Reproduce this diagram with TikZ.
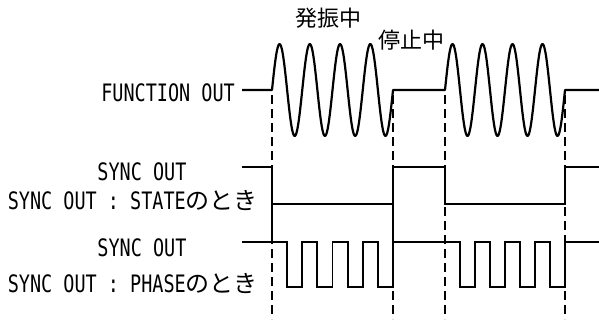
\documentclass[tikz,border=0pt]{standalone}
\usepackage{fontspec}
\newfontfamily\latn[FakeStretch=0.77]{DejaVu Sans Mono}
\newfontfamily\jpn{Noto Sans CJK JP}
\usetikzlibrary{positioning}

\tikzset{
  lab/.style={inner sep=0pt, font=\fontsize{24}{27}\selectfont\latn},
  head/.style={inner sep=0pt, font=\fontsize{22}{26}\selectfont\jpn},
  sig/.style={line width=1.8pt},
  wave/.style={line width=2.2pt, line join=round},
  mark line/.style={line width=1.8pt, dash pattern=on 9pt off 5pt}
}

\begin{document}
\begin{tikzpicture}[x=1pt, y=-1pt]
  \useasboundingbox (0,0) rectangle (599,321);

  % Labels
  \node[lab, anchor=east] (fout) at (235,93) {FUNCTION OUT};
  \node[lab] (sync1) at (142,172) {SYNC OUT};
  \node[lab, anchor=east] (state) at (258,200) {SYNC OUT : STATE{\jpn のとき}};
  \node[lab] (sync2) at (142,248) {SYNC OUT};
  \node[lab, anchor=east] (phase) at (258,283) {SYNC OUT : PHASE{\jpn のとき}};
  \node[head] (run) at (328,18) {発振中};
  \node[head] (stop) at (411,40) {停止中};

  % Timing marks
  \foreach \t in {272,393,445,565}
    \draw[mark line] (\t,95) -- (\t,319);

  % FUNCTION OUT
  \draw[wave] (242,90) -- (272,90)
    -- plot[domain=0:121, samples=150, smooth] (272+\x, {90-46*sin(11.9*\x)})
    -- (445,90)
    -- plot[domain=0:120, samples=150, smooth] (445+\x, {90-46*sin(12*\x)})
    -- (599,90);

  % SYNC OUT : STATE
  \draw[sig] (242,167) -- (272,167) -- (272,204) -- (393,204) -- (393,167)
    -- (445,167) -- (445,204) -- (565,204) -- (565,167) -- (599,167);
  \draw[sig] (272,204) -- (272,242);
  \draw[sig] (393,204) -- (393,242);

  % SYNC OUT : PHASE
  \draw[sig] (242,242) -- (272,242)
    \foreach \k in {1,...,4} { -- ++(15.125,0) -- ++(0,45) -- ++(15.125,0) -- ++(0,-45) }
    -- (445,242)
    \foreach \k in {1,...,4} { -- ++(15,0) -- ++(0,45) -- ++(15,0) -- ++(0,-45) }
    -- (599,242);
\end{tikzpicture}
\end{document}
